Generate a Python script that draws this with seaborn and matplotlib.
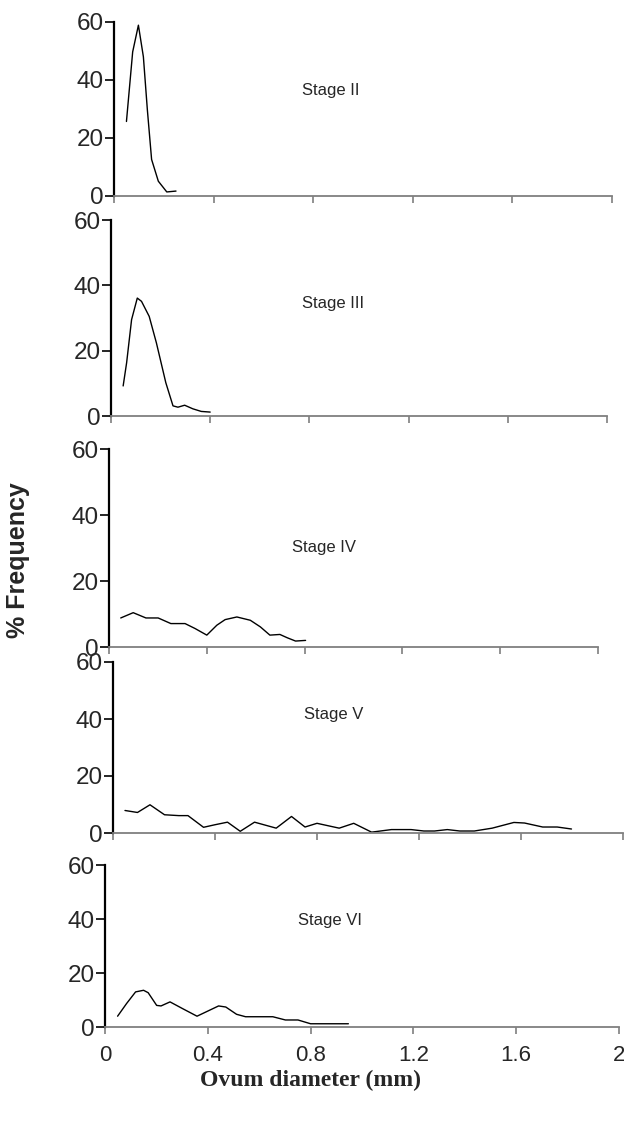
import pandas as pd
import matplotlib
matplotlib.use("Agg")
import matplotlib.pyplot as plt
import seaborn as sns

# Ovum diameter (mm) and % frequency for each stage
stage2_x = [0.05, 0.075, 0.098, 0.118, 0.134, 0.151, 0.178, 0.212, 0.249]
stage2_y = [25.7, 49.7, 58.9, 48.0, 29.7, 12.6, 5.1, 1.4, 1.7]

stage3_x = [0.049, 0.063, 0.083, 0.106, 0.123, 0.154, 0.183, 0.221, 0.25,
            0.27, 0.297, 0.33, 0.364, 0.4]
stage3_y = [9.2, 16.3, 29.5, 36.1, 35.1, 30.5, 22.4, 10.2, 3.1,
            2.7, 3.3, 2.2, 1.4, 1.2]

stage4_x = [0.048, 0.099, 0.151, 0.201, 0.253, 0.311, 0.352, 0.4, 0.441,
            0.475, 0.523, 0.578, 0.619, 0.658, 0.699, 0.729, 0.763, 0.804]
stage4_y = [8.8, 10.4, 8.8, 8.8, 7.1, 7.1, 5.6, 3.6, 6.6,
            8.3, 9.1, 8.1, 6.1, 3.6, 3.8, 2.8, 1.8, 2.0]

stage5_x = [0.047, 0.096, 0.145, 0.202, 0.258, 0.294, 0.355, 0.4, 0.449,
            0.499, 0.555, 0.64, 0.7, 0.753, 0.8, 0.887, 0.944, 1.014,
            1.092, 1.169, 1.219, 1.261, 1.311, 1.36, 1.417, 1.487, 1.572,
            1.614, 1.685, 1.742, 1.798]
stage5_y = [7.9, 7.2, 9.9, 6.4, 6.1, 6.1, 2.0, 2.9, 3.8,
            0.6, 3.8, 1.7, 5.8, 2.1, 3.4, 1.7, 3.4, 0.3,
            1.2, 1.2, 0.7, 0.7, 1.2, 0.7, 0.7, 1.7, 3.7,
            3.5, 2.1, 2.1, 1.4]

stage6_x = [0.049, 0.084, 0.119, 0.15, 0.168, 0.201, 0.218, 0.253, 0.302,
            0.358, 0.4, 0.442, 0.47, 0.512, 0.547, 0.653, 0.702, 0.751,
            0.8, 0.947]
stage6_y = [4.0, 8.7, 13.0, 13.6, 12.7, 8.0, 7.8, 9.3, 6.8,
            4.0, 5.9, 7.8, 7.4, 4.7, 3.8, 3.8, 2.6, 2.6,
            1.2, 1.2]

stage_names = ["Stage II", "Stage III", "Stage IV", "Stage V", "Stage VI"]
stage_xs = [stage2_x, stage3_x, stage4_x, stage5_x, stage6_x]
stage_ys = [stage2_y, stage3_y, stage4_y, stage5_y, stage6_y]
label_pos = [(0.754, 36.3), (0.771, 34.4), (0.749, 30.2), (0.75, 41.7), (0.751, 39.4)]

x_ticks = [0, 0.4, 0.8, 1.2, 1.6, 2]
x_ticklabels = ["0", "0.4", "0.8", "1.2", "1.6", "2"]
y_ticks = [0, 20, 40, 60]

sns.set_style("white")
plt.rcParams["font.family"] = ["Liberation Sans", "DejaVu Sans"]

W, H = 624, 1127
fig = plt.figure(figsize=(W / 100, H / 100), dpi=100)

# axes boxes in pixels: left, right, top (y=60), bottom (y=0)
boxes = [(114, 612, 22, 196), (111, 607, 220, 416), (109, 598, 449, 647),
         (113, 623, 662, 833), (105, 619, 865, 1027)]

for i, (name, xs, ys) in enumerate(zip(stage_names, stage_xs, stage_ys)):
    l, r, t, b = boxes[i]
    ax = fig.add_axes([l / W, 1 - b / H, (r - l) / W, (b - t) / H])
    df = pd.DataFrame({"diam": xs, "freq": ys})
    sns.lineplot(data=df, x="diam", y="freq", ax=ax, color="black",
                 linewidth=1.0, sort=False, clip_on=False)
    ax.set_xlim(0, 2)
    ax.set_ylim(0, 60)
    ax.set_xticks(x_ticks)
    ax.set_yticks(y_ticks)
    ax.set_xlabel("")
    ax.set_ylabel("")
    for s in ["top", "right"]:
        ax.spines[s].set_visible(False)
    ax.spines["left"].set_color("black")
    ax.spines["left"].set_linewidth(1.6)
    ax.spines["bottom"].set_color("#7f7f7f")
    ax.spines["bottom"].set_linewidth(1.3)
    ax.tick_params(axis="y", direction="out", length=6.5, width=1.2,
                   color="black", labelsize=17.5, pad=1, left=True)
    ax.tick_params(axis="x", direction="out", length=5, width=1.2,
                   color="#7f7f7f", labelsize=16, pad=8, bottom=True)
    if i < 4:
        ax.set_xticklabels([])
    else:
        ax.set_xticklabels(x_ticklabels)
    ax.text(label_pos[i][0], label_pos[i][1], name, fontsize=12,
            ha="left", va="center")
    ax.patch.set_alpha(0)

fig.text(18 / W, 1 - 560 / H, "% Frequency", rotation=90, fontsize=18,
         fontweight="bold", ha="center", va="center")
fig.text(310 / W, 1 - 1080 / H, "Ovum diameter (mm)", fontsize=17,
         fontweight="bold", family="Liberation Serif", ha="center", va="center")

fig.savefig("out.png", dpi=100)
